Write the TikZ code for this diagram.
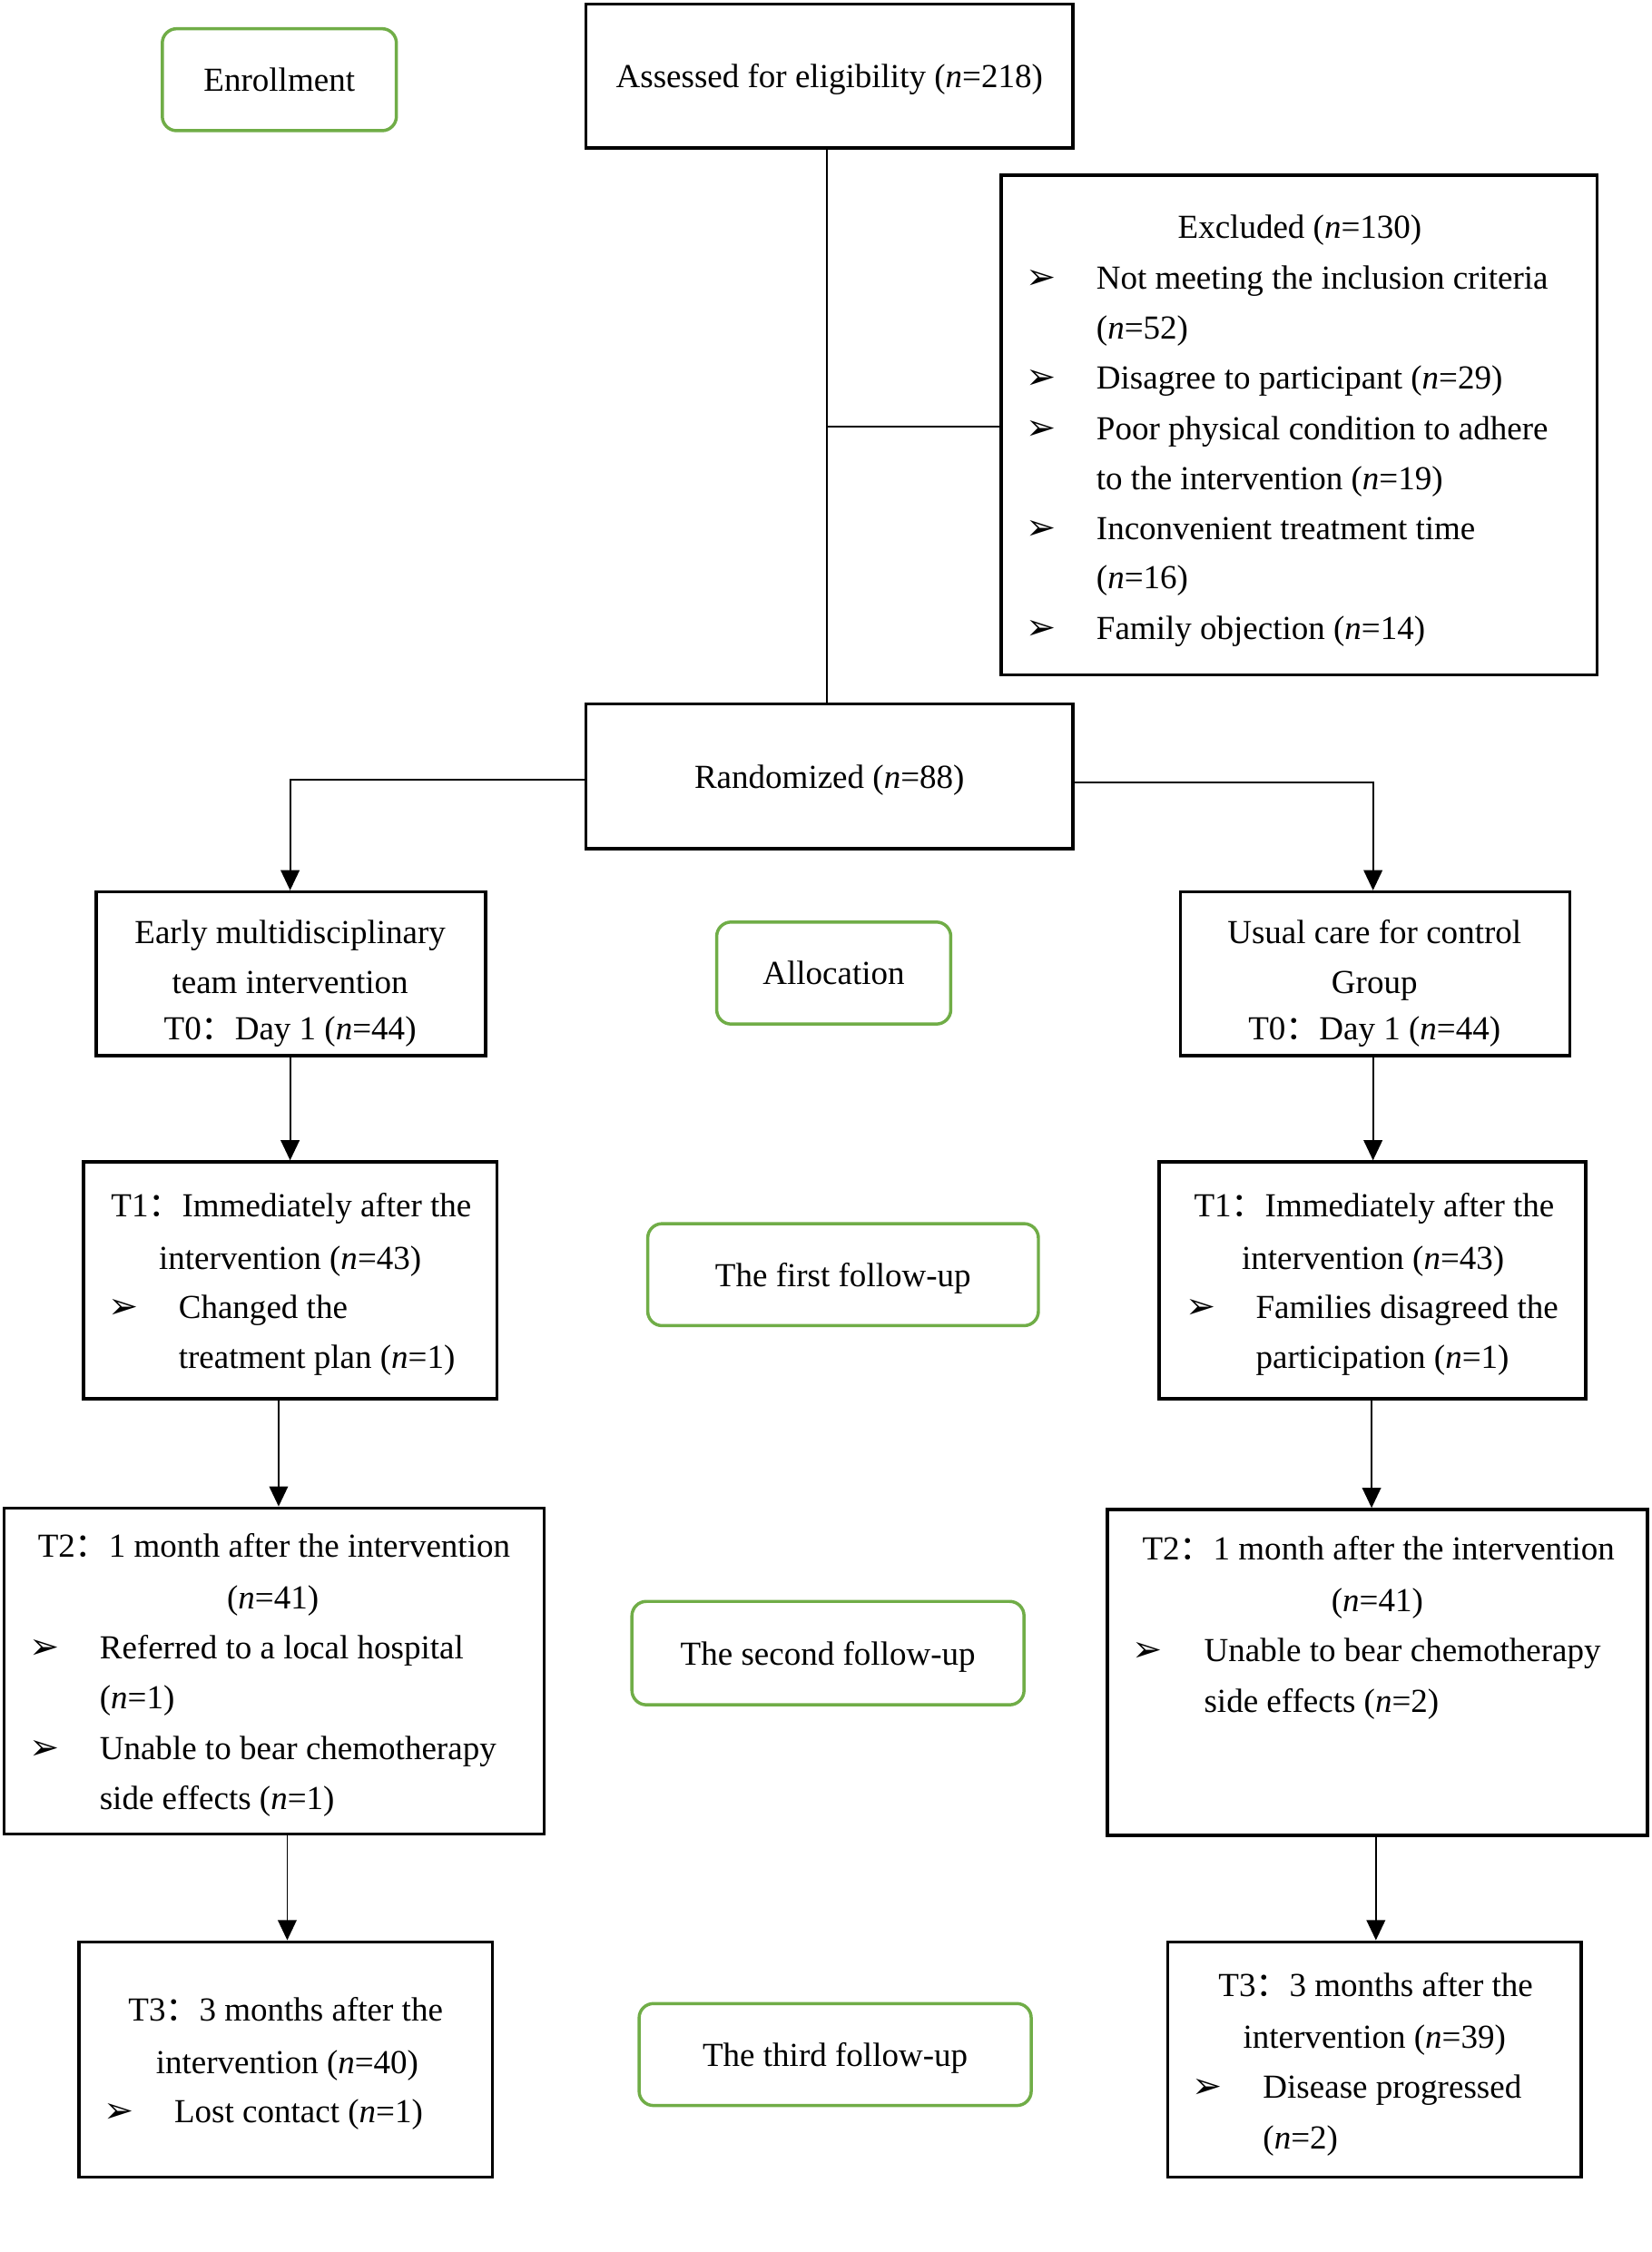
\documentclass[tikz,border=0pt]{standalone}
\usepackage{fontspec}
\setmainfont{Liberation Serif}
\newfontfamily\cjk{Noto Sans CJK SC}
\newfontfamily\dejavu{DejaVu Sans}
\usetikzlibrary{arrows.meta}
\newcommand{\fwcolon}{{\cjk ：}}
\newcommand{\nn}{\textit{n}}
\newcommand{\bul}{{\dejavu\fontsize{12.5}{12.5}\selectfont ➢}}
\definecolor{boxgreen}{HTML}{70AD47}
\begin{document}
\begin{tikzpicture}[x=0.5pt,y=-0.5pt,
  every node/.style={font=\fontsize{11.7}{14}\selectfont},
  blackbox/.style={draw=black, line width=1.1pt, rectangle, inner sep=0pt, text depth=0pt},
  greenbox/.style={draw=boxgreen, line width=1.1pt, rectangle, rounded corners=5pt, inner sep=0pt, text depth=0pt},
  txt/.style={anchor=base west, inner sep=0pt},
  ctxt/.style={anchor=base, inner sep=0pt},
  conn/.style={line width=0.6pt, draw=black},
  arr/.style={conn, -{Triangle[length=7pt,width=6.5pt]}}
]
\useasboundingbox (0,0) rectangle (1150,1568);
\fill[white] (0,0) rectangle (1150,1568);

% boxes
\node[greenbox, minimum width=81.5pt, minimum height=35.5pt] (enroll) at (194.5,55.5) {Enrollment};
\node[blackbox, minimum width=169.5pt, minimum height=50pt] (assess) at (577.5,53) {Assessed for eligibility (\nn=218)};
\node[blackbox, minimum width=207.5pt, minimum height=174pt] (excl) at (904.5,296) {};
\node[blackbox, minimum width=169.5pt, minimum height=50.5pt] (rand) at (577.5,540.5) {Randomized (\nn=88)};
\node[blackbox, minimum width=135.5pt, minimum height=57pt] (lt0) at (202.5,678) {};
\node[greenbox, minimum width=81.5pt, minimum height=35.5pt] (alloc) at (580.5,677.5) {Allocation};
\node[blackbox, minimum width=135.5pt, minimum height=57pt] (rt0) at (957.5,678) {};
\node[blackbox, minimum width=144pt, minimum height=82.5pt] (lt1) at (202,891.5) {};
\node[greenbox, minimum width=136pt, minimum height=35.5pt] (fu1) at (587,887.5) {The first follow-up};
\node[blackbox, minimum width=148.5pt, minimum height=82.5pt] (rt1) at (955.5,891.5) {};
\node[blackbox, minimum width=188pt, minimum height=113.5pt] (lt2) at (191,1163.5) {};
\node[greenbox, minimum width=136.5pt, minimum height=36pt] (fu2) at (576.5,1151) {The second follow-up};
\node[blackbox, minimum width=188pt, minimum height=113.5pt] (rt2) at (959,1164.5) {};
\node[blackbox, minimum width=144pt, minimum height=82pt] (lt3) at (199,1434) {};
\node[greenbox, minimum width=136.5pt, minimum height=35.5pt] (fu3) at (581.5,1430.5) {The third follow-up};
\node[blackbox, minimum width=144pt, minimum height=82pt] (rt3) at (957,1434) {};

% excluded text
\node[ctxt] (ex0) at (905,166) {Excluded (\nn=130)};
\node[txt] (exb1) at (714,201) {\bul};
\node[txt] (ex1) at (763,201) {Not meeting the inclusion criteria};
\node[txt] (ex2) at (763,236) {(\nn=52)};
\node[txt] (exb3) at (714,271) {\bul};
\node[txt] (ex3) at (763,271) {Disagree to participant (\nn=29)};
\node[txt] (exb4) at (714,306) {\bul};
\node[txt] (ex4) at (763,306) {Poor physical condition to adhere};
\node[txt] (ex5) at (763,341) {to the intervention (\nn=19)};
\node[txt] (exb6) at (714,376) {\bul};
\node[txt] (ex6) at (763,376) {Inconvenient treatment time};
\node[txt] (ex7) at (763,410) {(\nn=16)};
\node[txt] (exb8) at (714,445) {\bul};
\node[txt] (ex8) at (763,445) {Family objection (\nn=14)};

% T0 boxes
\node[ctxt] (l0a) at (202,657) {Early multidisciplinary};
\node[ctxt] (l0b) at (202,692) {team intervention};
\node[ctxt] (l0c) at (202,724) {T0\fwcolon Day 1 (\nn=44)};
\node[ctxt] (r0a) at (957,657) {Usual care for control};
\node[ctxt] (r0b) at (957,692) {Group};
\node[ctxt] (r0c) at (957,724) {T0\fwcolon Day 1 (\nn=44)};

% T1 boxes
\node[txt] (l1a) at (77,847) {T1\fwcolon Immediately after the};
\node[ctxt] (l1b) at (202,884) {intervention (\nn=43)};
\node[txt] (l1bu) at (75,918) {\bul};
\node[txt] (l1c) at (124,918) {Changed the};
\node[txt] (l1d) at (124,953) {treatment plan (\nn=1)};
\node[txt] (r1a) at (831,847) {T1\fwcolon Immediately after the};
\node[ctxt] (r1b) at (956,884) {intervention (\nn=43)};
\node[txt] (r1bu) at (825,918) {\bul};
\node[txt] (r1c) at (874,918) {Families disagreed the};
\node[txt] (r1d) at (874,953) {participation (\nn=1)};

% T2 boxes
\node[txt] (l2a) at (26,1084) {T2\fwcolon 1 month after the intervention};
\node[ctxt] (l2b) at (190,1120) {(\nn=41)};
\node[txt] (l2bu1) at (20,1155) {\bul};
\node[txt] (l2c) at (69,1155) {Referred to a local hospital};
\node[txt] (l2d) at (69,1190) {(\nn=1)};
\node[txt] (l2bu2) at (20,1225) {\bul};
\node[txt] (l2e) at (69,1225) {Unable to bear chemotherapy};
\node[txt] (l2f) at (69,1260) {side effects (\nn=1)};
\node[txt] (r2a) at (795,1086) {T2\fwcolon 1 month after the intervention};
\node[ctxt] (r2b) at (959,1122) {(\nn=41)};
\node[txt] (r2bu) at (788,1157) {\bul};
\node[txt] (r2c) at (838,1157) {Unable to bear chemotherapy};
\node[txt] (r2d) at (838,1192) {side effects (\nn=2)};

% T3 boxes
\node[txt] (l3a) at (89,1407) {T3\fwcolon 3 months after the};
\node[ctxt] (l3b) at (200,1444) {intervention (\nn=40)};
\node[txt] (l3bu) at (72,1478) {\bul};
\node[txt] (l3c) at (121,1478) {Lost contact (\nn=1)};
\node[txt] (r3a) at (848,1390) {T3\fwcolon 3 months after the};
\node[ctxt] (r3b) at (957,1426) {intervention (\nn=39)};
\node[txt] (r3bu) at (830,1461) {\bul};
\node[txt] (r3c) at (879,1461) {Disease progressed};
\node[txt] (r3d) at (879,1496) {(\nn=2)};

% connectors
\coordinate (j) at (576,297);
\coordinate (hl) at (0,543);
\coordinate (hr) at (0,545);
\coordinate (vl) at (202,0);
\coordinate (vr) at (956,0);
\coordinate (a1) at (194,0);
\coordinate (a2) at (200,0);
\coordinate (a3) at (955,0);
\coordinate (a4) at (958,0);
\draw[conn] (assess.south -| j) -- (rand.north -| j);
\draw[conn] (j) -- (j -| excl.west);
\draw[arr] (rand.west |- hl) -| (lt0.north -| vl);
\draw[arr] (rand.east |- hr) -| (rt0.north -| vr);
\draw[arr] (lt0.south -| vl) -- (lt1.north -| vl);
\draw[arr] (rt0.south -| vr) -- (rt1.north -| vr);
\draw[arr] (lt1.south -| a1) -- (lt2.north -| a1);
\draw[arr] (lt2.south -| a2) -- (lt3.north -| a2);
\draw[arr] (rt1.south -| a3) -- (rt2.north -| a3);
\draw[arr] (rt2.south -| a4) -- (rt3.north -| a4);
\end{tikzpicture}
\end{document}
